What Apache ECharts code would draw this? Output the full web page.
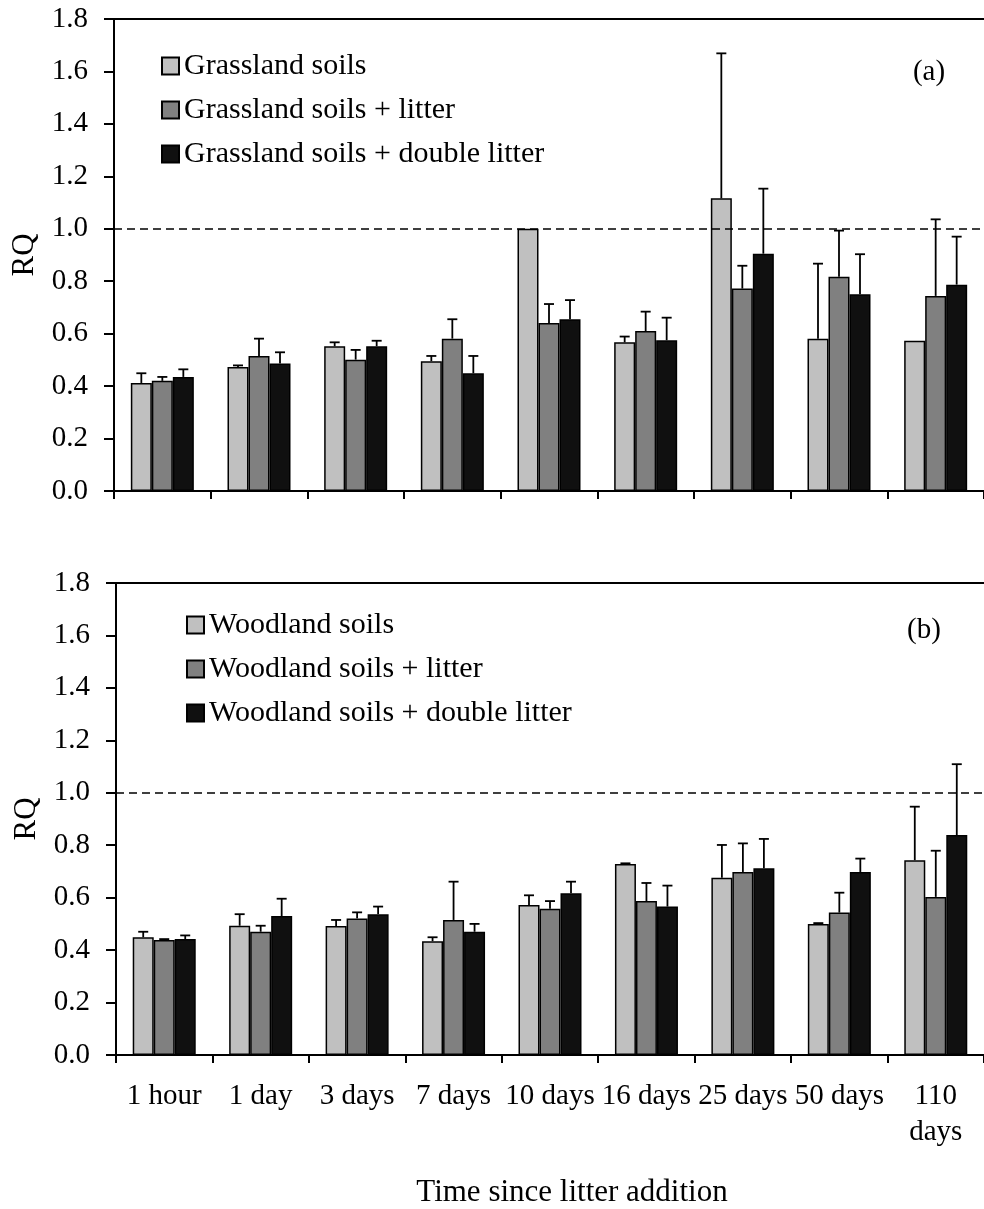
<!DOCTYPE html>
<html>
<head>
<meta charset="utf-8">
<script src="https://cdn.jsdelivr.net/npm/echarts@6/dist/echarts.min.js"></script>
<style>
html,body{margin:0;padding:0;background:#fff;}
#chart{width:984px;height:1209px;}
</style>
</head>
<body>
<div id="chart"></div>
<script>
// ---- data ----
const categories = ['1 hour','1 day','3 days','7 days','10 days','16 days','25 days','50 days','110 days'];
const tickLabels = ['1 hour','1 day','3 days','7 days','10 days','16 days','25 days','50 days','110\ndays'];
const yTicks = [0,0.2,0.4,0.6,0.8,1.0,1.2,1.4,1.6,1.8];

const grassNames = ['Grassland soils','Grassland soils + litter','Grassland soils + double litter'];
const woodNames = ['Woodland soils','Woodland soils + litter','Woodland soils + double litter'];

const grassSoil = [0.412,0.473,0.552,0.495,1.000,0.567,1.116,0.581,0.573];
const grassSoilSE = [0.037,0.006,0.015,0.020,0,0.022,0.553,0.286,0];
const grassLitter = [0.420,0.515,0.501,0.581,0.641,0.610,0.772,0.817,0.744];
const grassLitterSE = [0.015,0.066,0.037,0.074,0.072,0.074,0.087,0.176,0.292];
const grassDouble = [0.435,0.486,0.552,0.449,0.655,0.575,0.905,0.750,0.787];
const grassDoubleSE = [0.029,0.043,0.021,0.066,0.073,0.086,0.248,0.153,0.183];

const woodSoil = [0.449,0.493,0.492,0.434,0.572,0.728,0.676,0.500,0.743];
const woodSoilSE = [0.021,0.044,0.023,0.015,0.037,0.003,0.125,0.003,0.204];
const woodLitter = [0.439,0.470,0.521,0.515,0.558,0.587,0.698,0.543,0.603];
const woodLitterSE = [0.003,0.023,0.023,0.146,0.029,0.069,0.109,0.076,0.176];
const woodDouble = [0.442,0.530,0.537,0.470,0.617,0.566,0.712,0.698,0.839];
const woodDoubleSE = [0.014,0.066,0.029,0.030,0.044,0.080,0.112,0.051,0.270];

const refLine = 1.0;

// ---- styling ----
const FONT = 'Liberation Serif';
const colors = ['#c0c0c0','#808080','#101010'];
const BAR_W = 21;

const chart = echarts.init(document.getElementById('chart'), null, {renderer:'canvas'});

function yAxis(gi){
  return {
    gridIndex: gi, type:'value', min:0, max:1.8, interval:0.2,
    name:'RQ', nameLocation:'middle', nameGap:72,
    nameTextStyle:{fontFamily:FONT, fontSize:31, color:'#000'},
    axisLine:{show:true, lineStyle:{color:'#000', width:2}},
    axisTick:{show:true, inside:false, length:10, lineStyle:{color:'#000', width:2}},
    axisLabel:{margin:26, fontFamily:FONT, fontSize:29, color:'#000',
      formatter:v => (yTicks.find(t => Math.abs(t - v) < 1e-6) ?? v).toFixed(1)},
    splitLine:{show:false}
  };
}
function xAxis(gi, showLabels){
  return {
    gridIndex: gi, type:'category', data:categories, boundaryGap:true,
    axisLine:{show:true, onZero:false, lineStyle:{color:'#000', width:2}},
    axisTick:{show:true, inside:false, length:8, lineStyle:{color:'#000', width:2}},
    axisLabel:{show:showLabels, interval:0, margin:23, fontFamily:FONT, fontSize:29, color:'#000',
      lineHeight:36, formatter:(v, i) => tickLabels[i]},
    splitLine:{show:false}
  };
}
function topFrame(gi){
  return {
    gridIndex: gi, type:'category', data:categories, position:'top',
    axisLine:{show:true, onZero:false, lineStyle:{color:'#000', width:2}},
    axisTick:{show:false}, axisLabel:{show:false}, splitLine:{show:false}
  };
}

function barSeries(name, data, idx, gi, withRef){
  const s = {
    type:'bar', name:name, xAxisIndex:gi, yAxisIndex:gi, data:data,
    barWidth:BAR_W, barGap:'0%',
    itemStyle:{color:colors[idx], borderColor:'#000', borderWidth:1.5},
    emphasis:{disabled:true}, z:2
  };
  if (withRef){
    s.markLine = {
      silent:true, symbol:['none','none'], label:{show:false},
      lineStyle:{color:'#000', type:[8,5], width:1.5},
      data:[{yAxis:refLine}], z:5
    };
  }
  return s;
}

function errSeries(values, se, idx, gi){
  return {
    type:'custom', xAxisIndex:gi, yAxisIndex:gi, z:3, silent:true,
    data: values.map((v,i) => [i, v, se[i]]),
    encode:{x:0, y:1},
    renderItem: function(params, api){
      const i = api.value(0), v = api.value(1), e = api.value(2);
      if (!(e > 0)) return null;
      const p0 = api.coord([i, v]);
      const p1 = api.coord([i, v + e]);
      const x = p0[0] + (idx - 1) * BAR_W;
      const cap = 5;
      return {
        type:'group',
        children:[
          {type:'line', shape:{x1:x, y1:p0[1], x2:x, y2:p1[1]}, style:{stroke:'#000', lineWidth:1.8}},
          {type:'line', shape:{x1:x-cap, y1:p1[1], x2:x+cap, y2:p1[1]}, style:{stroke:'#000', lineWidth:1.8}}
        ]
      };
    }
  };
}

const legendBase = {
  orient:'vertical', icon:'rect', itemWidth:17, itemHeight:17, itemGap:14, padding:0,
  textStyle:{fontFamily:FONT, fontSize:30, color:'#000', lineHeight:30},
  selectedMode:false
};

const option = {
  animation:false,
  backgroundColor:'#fff',
  grid:[
    {left:114, top:19, width:873, height:472},
    {left:116, top:583, width:876, height:472}
  ],
  xAxis:[xAxis(0,false), xAxis(1,true), topFrame(0), topFrame(1)],
  yAxis:[yAxis(0), yAxis(1)],
  legend:[
    Object.assign({}, legendBase, {left:161, top:51, data:grassNames}),
    Object.assign({}, legendBase, {left:186, top:610, data:woodNames})
  ],
  graphic:[
    {type:'text', x:929, y:72, style:{text:'(a)', font:'29px "Liberation Serif"', fill:'#000', align:'center', verticalAlign:'middle'}},
    {type:'text', x:924, y:630, style:{text:'(b)', font:'29px "Liberation Serif"', fill:'#000', align:'center', verticalAlign:'middle'}},
    {type:'text', x:572, y:1193, style:{text:'Time since litter addition', font:'31px "Liberation Serif"', fill:'#000', align:'center', verticalAlign:'middle'}}
  ],
  series:[
    barSeries(grassNames[0], grassSoil, 0, 0, true),
    barSeries(grassNames[1], grassLitter, 1, 0, false),
    barSeries(grassNames[2], grassDouble, 2, 0, false),
    errSeries(grassSoil, grassSoilSE, 0, 0),
    errSeries(grassLitter, grassLitterSE, 1, 0),
    errSeries(grassDouble, grassDoubleSE, 2, 0),
    barSeries(woodNames[0], woodSoil, 0, 1, true),
    barSeries(woodNames[1], woodLitter, 1, 1, false),
    barSeries(woodNames[2], woodDouble, 2, 1, false),
    errSeries(woodSoil, woodSoilSE, 0, 1),
    errSeries(woodLitter, woodLitterSE, 1, 1),
    errSeries(woodDouble, woodDoubleSE, 2, 1)
  ]
};
chart.setOption(option);
</script>
</body>
</html>
